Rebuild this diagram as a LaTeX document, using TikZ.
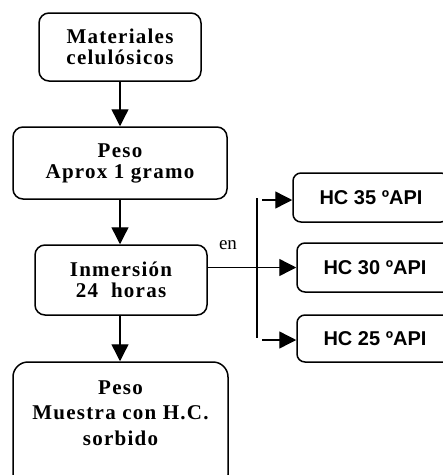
\documentclass[tikz,border=0pt]{standalone}
\usepackage{fontspec}
\setmainfont{Liberation Serif}
\newfontfamily\hcfont{Liberation Sans}
\usetikzlibrary{arrows.meta}

\begin{document}
\begin{tikzpicture}[x=1pt, y=-1pt, line join=round,
    caja/.style={draw, line width=1.5pt, rounded corners=10pt, align=center,
      font=\addfontfeature{LetterSpace=6}\fontsize{21}{21}\selectfont\bfseries, inner sep=0pt},
    hcbox/.style={draw, line width=1.5pt, rounded corners=8pt, inner sep=0pt,
      font=\hcfont\fontsize{20}{22}\selectfont\bfseries},
    flecha/.style={line width=1.4pt, -{Triangle[width=17pt,length=17pt]}}]

    \useasboundingbox (0,0) rectangle (443,475);
    \clip (0,0) rectangle (443,475);

    % cajas de la izquierda
    \node[caja, minimum width=162pt, minimum height=68pt] (mat) at (120,47) {Materiales\\celulósicos};
    \node[caja, minimum width=214pt, minimum height=72pt] (peso) at (120,163) {Peso\\Aprox 1 gramo};
    \node[caja, minimum width=172pt, minimum height=70pt] (inm) at (121,280) {Inmersión\\24\ \ horas};
    \node[caja, rounded corners=15pt, minimum width=215pt, minimum height=128pt] (muestra) at (120.5,426) {};
    \node[align=center, font=\addfontfeature{LetterSpace=6}\fontsize{21}{25.5}\selectfont\bfseries] (muestratxt) at (120.5,413) {Peso\\Muestra con H.C.\\sorbido};

    % cajas de la derecha
    \node[hcbox, minimum width=156pt, minimum height=49pt] (hc35) at (371,197.5) {HC 35 ºAPI};
    \node[hcbox, minimum width=156pt, minimum height=49pt] (hc30) at (375,267.5) {HC 30 ºAPI};
    \node[hcbox, minimum width=156pt, minimum height=47pt] (hc25) at (375,338.5) {HC 25 ºAPI};

    \draw[flecha] (mat.south) -- (peso.north -| mat.south);
    \draw[flecha] (peso.south -| mat) -- (inm.north -| mat);
    \draw[flecha] (inm.south -| mat) -- (muestra.north -| mat);

    \coordinate (rama1) at (257,198);
    \coordinate (rama2) at (257,338);
    \coordinate (ini35) at (262,200);
    \coordinate (ini25) at (262,340);

    \draw[line width=1.4pt] (rama1) -- (rama2);
    \draw[flecha] (inm.east |- hc30) -- (hc30.west);
    \draw[flecha] (ini35) -- (ini35 -| hc35.west);
    \draw[flecha] (ini25) -- (ini25 -| hc25.west);

    \node[font=\fontsize{19}{20}\selectfont] (en) at (228,245) {en};

\end{tikzpicture}
\end{document}
